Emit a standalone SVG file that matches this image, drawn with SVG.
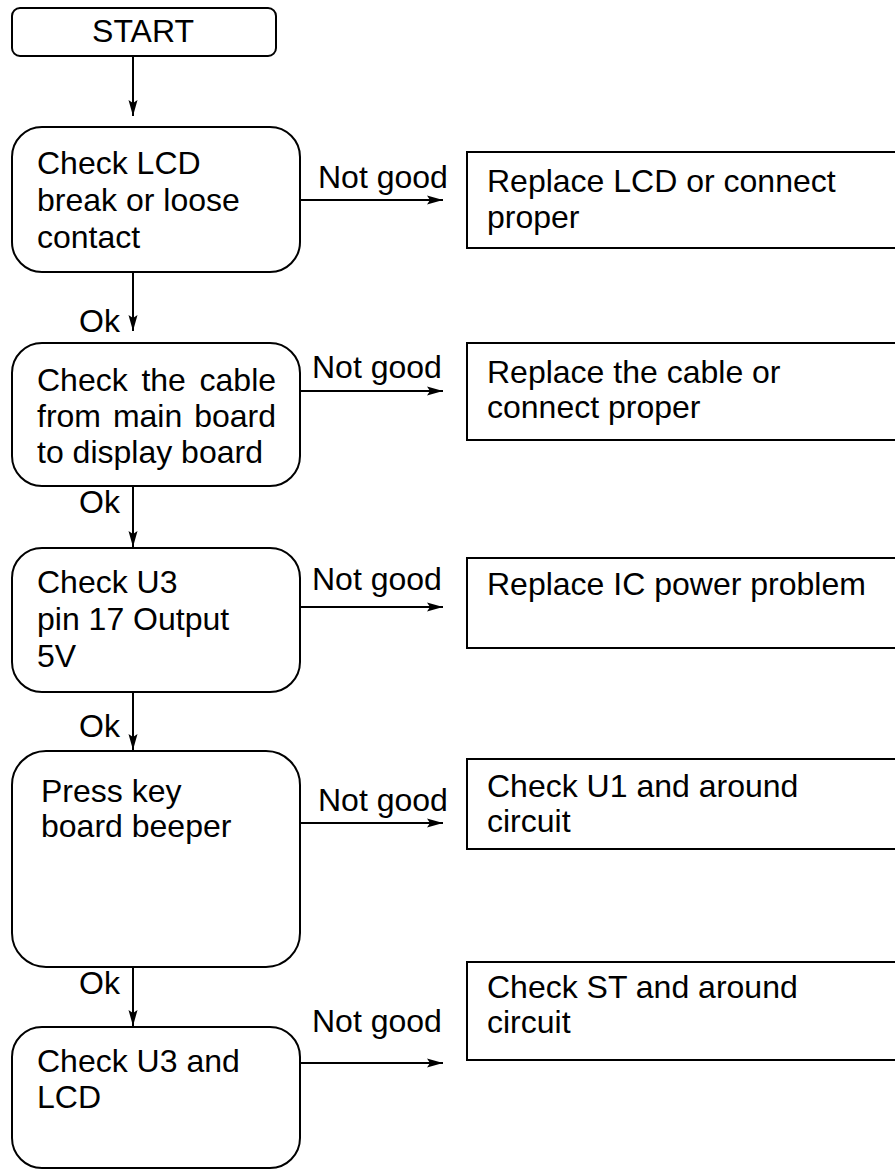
<svg xmlns="http://www.w3.org/2000/svg" width="895" height="1170" viewBox="0 0 895 1170">
<defs>
<style>
.n{fill:#fff;stroke:#000;stroke-width:2}
.t{font-family:"Liberation Sans",Arial,sans-serif;font-size:32px;fill:#000}
.c{stroke:#000;stroke-width:2;fill:none}
</style>
<marker id="ah" viewBox="0 0 16 10" refX="16" refY="5" markerWidth="16" markerHeight="10" markerUnits="userSpaceOnUse" orient="auto">
<path d="M0,0.5 L16,5 L0,9.5 L3,5 Z" fill="#000"/>
</marker>
</defs>
<rect width="895" height="1170" fill="#fff"/>
<g id="connectors">
<line class="c" x1="133" y1="56" x2="133" y2="116" marker-end="url(#ah)"/>
<line class="c" x1="133" y1="272" x2="133" y2="331" marker-end="url(#ah)"/>
<line class="c" x1="133" y1="486" x2="133" y2="547" marker-end="url(#ah)"/>
<line class="c" x1="133" y1="692" x2="133" y2="750" marker-end="url(#ah)"/>
<line class="c" x1="133" y1="967" x2="133" y2="1026" marker-end="url(#ah)"/>
<line class="c" x1="300" y1="200" x2="443" y2="200" marker-end="url(#ah)"/>
<line class="c" x1="300" y1="391" x2="443" y2="391" marker-end="url(#ah)"/>
<line class="c" x1="300" y1="607" x2="443" y2="607" marker-end="url(#ah)"/>
<line class="c" x1="300" y1="823" x2="443" y2="823" marker-end="url(#ah)"/>
<line class="c" x1="300" y1="1063" x2="443" y2="1063" marker-end="url(#ah)"/>
<text class="t" x="318" y="188">Not good</text>
<text class="t" x="312" y="378">Not good</text>
<text class="t" x="312" y="590">Not good</text>
<text class="t" x="318" y="811">Not good</text>
<text class="t" x="312" y="1032">Not good</text>
<text class="t" x="79" y="332">Ok</text>
<text class="t" x="79" y="513">Ok</text>
<text class="t" x="79" y="737">Ok</text>
<text class="t" x="79" y="994">Ok</text>
</g>
<g id="start">
<rect class="n" x="12" y="8" width="264" height="48" rx="8"/>
<text class="t" x="143" y="42" text-anchor="middle">START</text>
</g>
<g id="check-lcd">
<rect class="n" x="12" y="127" width="288" height="145" rx="30"/>
<text class="t" x="37" y="174">Check LCD</text>
<text class="t" x="37" y="211">break or loose</text>
<text class="t" x="37" y="248">contact</text>
</g>
<g id="check-cable">
<rect class="n" x="12" y="343" width="288" height="143" rx="30"/>
<text class="t" x="37" y="391" word-spacing="4.8">Check the cable</text>
<text class="t" x="37" y="427" word-spacing="3">from main board</text>
<text class="t" x="37" y="463">to display board</text>
</g>
<g id="check-u3-pin">
<rect class="n" x="12" y="548" width="288" height="144" rx="30"/>
<text class="t" x="37" y="593">Check U3</text>
<text class="t" x="37" y="630">pin 17 Output</text>
<text class="t" x="37" y="667">5V</text>
</g>
<g id="press-key">
<rect class="n" x="12" y="751" width="288" height="216" rx="34"/>
<text class="t" x="41" y="802">Press key</text>
<text class="t" x="41" y="837">board beeper</text>
</g>
<g id="check-u3-lcd">
<rect class="n" x="12" y="1027" width="288" height="141" rx="30"/>
<text class="t" x="37" y="1072">Check U3 and</text>
<text class="t" x="37" y="1108">LCD</text>
</g>
<g id="replace-lcd">
<rect class="n" x="467" y="152" width="440" height="96"/>
<text class="t" x="487" y="192">Replace LCD or connect</text>
<text class="t" x="487" y="228">proper</text>
</g>
<g id="replace-cable">
<rect class="n" x="467" y="343" width="440" height="97"/>
<text class="t" x="487" y="383">Replace the cable or</text>
<text class="t" x="487" y="418">connect proper</text>
</g>
<g id="replace-ic">
<rect class="n" x="467" y="558" width="440" height="90"/>
<text class="t" x="487" y="595">Replace IC power problem</text>
</g>
<g id="check-u1">
<rect class="n" x="467" y="759" width="440" height="90"/>
<text class="t" x="487" y="797">Check U1 and around</text>
<text class="t" x="487" y="832">circuit</text>
</g>
<g id="check-st">
<rect class="n" x="467" y="962" width="440" height="98"/>
<text class="t" x="487" y="998">Check ST and around</text>
<text class="t" x="487" y="1033">circuit</text>
</g>
</svg>
